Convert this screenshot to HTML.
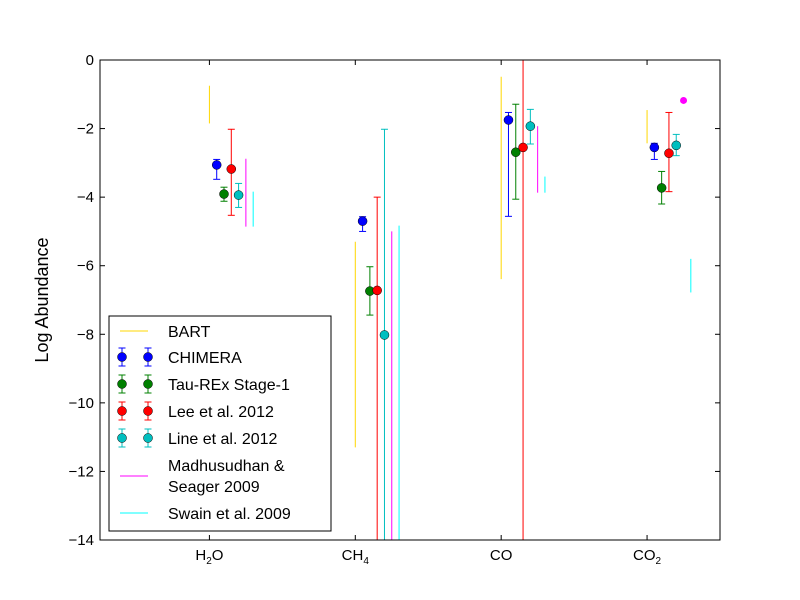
<!DOCTYPE html>
<html><head><meta charset="utf-8"><style>
html,body{margin:0;padding:0;background:#fff;width:800px;height:600px;overflow:hidden}
svg{display:block;font-family:"Liberation Sans","DejaVu Sans",sans-serif}
</style></head><body>
<svg id="chart" width="800" height="600" viewBox="0 0 800 600" xmlns="http://www.w3.org/2000/svg">
<defs><clipPath id="plotclip"><rect x="100" y="60" width="620" height="480"/></clipPath></defs>
<rect x="0" y="0" width="800" height="600" fill="#fff"/>
<g id="marks" clip-path="url(#plotclip)"></g>
<rect x="100" y="60" width="620" height="480" fill="none" stroke="#000" stroke-width="1"/>
<g id="axes"></g>
<text x="48" y="300" font-size="18" text-anchor="middle" transform="rotate(-90 48 300)">Log Abundance</text>
<g id="legend"></g>
</svg>
<script>
const categories = ["H2O","CH4","CO","CO2"];
const categoryLabels = [["H","2","O"],["CH","4",""],["CO","",""],["CO","2",""]];
const yTicks = [0,-2,-4,-6,-8,-10,-12,-14];
const seriesNames = ["BART","CHIMERA","Tau-REx Stage-1","Lee et al. 2012","Line et al. 2012","Madhusudhan & Seager 2009","Swain et al. 2009"];
const seriesColors = ["#ffd700","#0000ff","#008000","#ff0000","#00bfbf","#ff00ff","#00ffff"];
// range-only series: [hi, lo] per category
const bartRanges = [[-0.75,-1.85],[-5.3,-11.3],[-0.49,-6.39],[-1.46,-2.43]];
const madhuRanges = [[-2.88,-4.86],[-5.0,-20],[-1.93,-3.87],null];
const madhuPoints = [null,null,null,-1.18];
const swainRanges = [[-3.84,-4.86],[-4.83,-20],[-3.4,-3.87],[-5.8,-6.78]];
// errorbar series: value, hi, lo
const chimeraVals = [-3.06,-4.7,-1.75,-2.55];
const chimeraHi = [-2.9,-4.57,-1.53,-2.43];
const chimeraLo = [-3.48,-5.0,-4.56,-2.9];
const taurexVals = [-3.91,-6.74,-2.69,-3.73];
const taurexHi = [-3.71,-6.03,-1.29,-3.25];
const taurexLo = [-4.12,-7.44,-4.06,-4.2];
const leeVals = [-3.18,-6.72,-2.55,-2.72];
const leeHi = [-2.02,-4.0,0.5,-1.53];
const leeLo = [-4.53,-20,-20,-3.84];
const lineVals = [-3.94,-8.02,-1.93,-2.49];
const lineHi = [-3.6,-2.02,-1.44,-2.17];
const lineLo = [-4.3,-20,-2.45,-2.79];

const NS="http://www.w3.org/2000/svg";
const X0=100,X1=720,Y0=60,Y1=540, xmin=-0.75,xmax=3.5,ymin=-14,ymax=0;
const xs=v=>X0+(v-xmin)/(xmax-xmin)*(X1-X0);
const ys=v=>Y1-(v-ymin)/(ymax-ymin)*(Y1-Y0);
const cl=v=>Math.max(ymin-0.2,Math.min(ymax+0.2,v));
function mk(tag,attrs,parent){const e=document.createElementNS(NS,tag);for(const k in attrs)e.setAttribute(k,attrs[k]);parent.appendChild(e);return e;}
const marks=document.getElementById('marks'),axes=document.getElementById('axes'),legend=document.getElementById('legend');
const off=0.05;

function rangeLine(i,si,r){
  if(!r)return;
  const x=xs(i+si*off);
  const l=mk('line',{x1:x,x2:x,y1:ys(cl(r[0])),y2:ys(cl(r[1])),stroke:seriesColors[si],'stroke-width':1},marks);
  
  
}
function errPoint(i,si,v,hi,lo){
  const x=xs(i+si*off),c=seriesColors[si];
  const g=mk('g',{},marks);
  
  
  mk('line',{x1:x,x2:x,y1:ys(cl(hi)),y2:ys(cl(lo)),stroke:c,'stroke-width':1},g);
  mk('line',{x1:x-3.5,x2:x+3.5,y1:ys(cl(hi)),y2:ys(cl(hi)),stroke:c,'stroke-width':1},g);
  mk('line',{x1:x-3.5,x2:x+3.5,y1:ys(cl(lo)),y2:ys(cl(lo)),stroke:c,'stroke-width':1},g);
  mk('circle',{cx:x,cy:ys(v),r:4.5,fill:c,stroke:'#000','stroke-width':0.5},g);
}
for(let i=0;i<categories.length;i++){
  rangeLine(i,0,bartRanges[i]);
  errPoint(i,1,chimeraVals[i],chimeraHi[i],chimeraLo[i]);
  errPoint(i,2,taurexVals[i],taurexHi[i],taurexLo[i]);
  errPoint(i,3,leeVals[i],leeHi[i],leeLo[i]);
  errPoint(i,4,lineVals[i],lineHi[i],lineLo[i]);
  rangeLine(i,5,madhuRanges[i]);
  if(madhuPoints[i]!==null){
    const p=mk('circle',{cx:xs(i+5*off),cy:ys(madhuPoints[i]),r:3.5,fill:seriesColors[5]},marks);
    
    
  }
  rangeLine(i,6,swainRanges[i]);
}
yTicks.forEach(t=>{
  const y=ys(t);
  mk('line',{x1:X0,x2:X0+5,y1:y,y2:y,stroke:'#000'},axes);
  mk('line',{x1:X1,x2:X1-5,y1:y,y2:y,stroke:'#000'},axes);
  const tx=mk('text',{x:94,y:y+5,'font-size':15,'text-anchor':'end'},axes);
  tx.textContent=(t<0?'\u2212':'')+Math.abs(t);
  
  
});
categories.forEach((c,i)=>{
  const x=xs(i);
  mk('line',{x1:x,x2:x,y1:Y1,y2:Y1-5,stroke:'#000'},axes);
  mk('line',{x1:x,x2:x,y1:Y0,y2:Y0+5,stroke:'#000'},axes);
  const tx=mk('text',{x:x,y:560,'font-size':15,'text-anchor':'middle'},axes);
  
  
  const p=categoryLabels[i];
  const a=document.createElementNS(NS,'tspan');a.textContent=p[0];tx.appendChild(a);
  if(p[1]){const s=document.createElementNS(NS,'tspan');s.setAttribute('font-size','10');s.setAttribute('dy','4');s.textContent=p[1];tx.appendChild(s);}
  if(p[2]){const b=document.createElementNS(NS,'tspan');b.setAttribute('dy','-4');b.textContent=p[2];tx.appendChild(b);}
});
mk('rect',{x:109,y:316,width:222,height:215,fill:'#fff',stroke:'#000','stroke-width':1},legend);
const legY=[331,357,384,411,438,465,513];
seriesNames.forEach((n,si)=>{
  const y=legY[si],c=seriesColors[si];
  const g=mk('g',{},legend);
  
  
  if(si===0||si===5||si===6){
    const ly=si===5?y+11:y;
    mk('line',{x1:120,x2:148,y1:ly,y2:ly,stroke:c,'stroke-width':1},g);
  } else {
    [122,148].forEach(x=>{
      mk('line',{x1:x,x2:x,y1:y-9,y2:y+9,stroke:c},g);
      mk('line',{x1:x-3.5,x2:x+3.5,y1:y-9,y2:y-9,stroke:c},g);
      mk('line',{x1:x-3.5,x2:x+3.5,y1:y+9,y2:y+9,stroke:c},g);
      mk('circle',{cx:x,cy:y,r:4.5,fill:c,stroke:'#000','stroke-width':0.5},g);
    });
  }
  if(si===5){
    const t1=mk('text',{x:168,y:y+6,'font-size':16},g);t1.textContent='Madhusudhan &';
    const t2=mk('text',{x:168,y:y+27,'font-size':16},g);t2.textContent='Seager 2009';
  } else {
    const t=mk('text',{x:168,y:y+6,'font-size':16},g);t.textContent=n;
  }
});
</script>
</body></html>
